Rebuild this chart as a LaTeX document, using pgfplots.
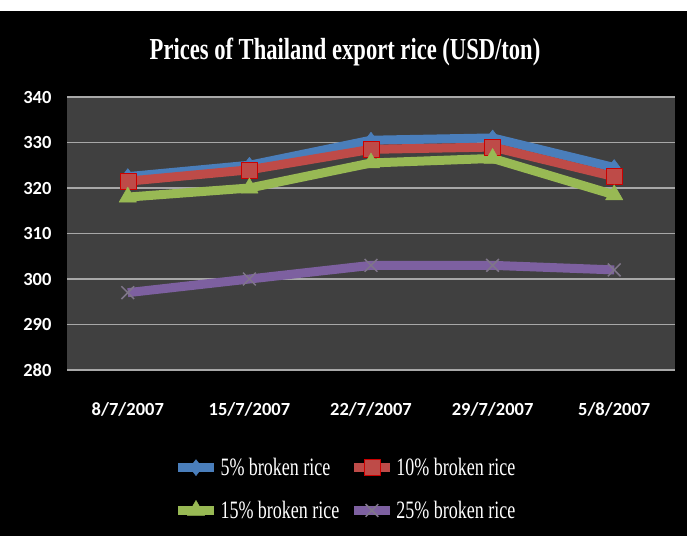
\documentclass[border=0pt]{standalone}
\usepackage{fontspec}
\setmainfont{Liberation Serif}
\newfontfamily\condfont[FakeStretch=0.72]{Liberation Serif}
\newfontfamily\condbold[FakeStretch=0.74]{Liberation Serif Bold}
\newfontfamily\tickfont{Carlito Bold}
\usepackage{pgfplots}
\pgfplotsset{compat=1.18}
\definecolor{plotbg}{HTML}{404040}
\definecolor{gridc}{HTML}{A8A8A8}
\definecolor{sblue}{HTML}{4A7EBB}
\definecolor{sred}{HTML}{BE4B48}
\definecolor{sgreen}{HTML}{98B954}
\definecolor{spurple}{HTML}{7D60A0}
\begin{document}
\begin{tikzpicture}[x=1pt,y=1pt]
\fill[black] (0,0) rectangle (687,536);
\fill[white] (0,525) rectangle (687,536);
\node[text=white,font=\condbold\fontsize{30.5}{33}\selectfont] at (345,484) {Prices of Thailand export rice (USD/ton)};
\begin{axis}[
  at={(67pt,166pt)}, anchor=south west,
  scale only axis, width=608pt, height=273pt,
  axis background/.style={fill=plotbg},
  axis line style={draw=none},
  xmin=-0.5, xmax=4.5, ymin=280, ymax=340,
  ytick={280,290,...,340},
  xtick={0,1,2,3,4},
  xticklabels={8/7/2007,15/7/2007,22/7/2007,29/7/2007,5/8/2007},
  major tick length=0pt,
  ymajorgrids, grid style={gridc, line width=1.6pt},
  /pgf/number format/assume math mode=true,
  tick label style={text=white, font=\tickfont\fontsize{18.5}{20}\selectfont},
  yticklabel style={xshift=-12pt},
  xticklabel style={yshift=-29pt},
  legend columns=2,
  legend style={at={(0.458,-0.315)}, anchor=north, fill=black, draw=none, text=white,
    font=\condfont\fontsize{25}{27}\selectfont,
    /tikz/every even column/.append style={column sep=8pt},
    row sep=20pt, inner sep=0pt},
  legend cell align=left,
  legend image code/.code={
    \draw[#1, line width=3pt] (0pt,0pt) -- (36pt,0pt);
    \draw[#1, mark repeat=2, mark phase=2] plot coordinates {(0pt,0pt) (18pt,0pt) (36pt,0pt)};
  },
  every axis plot/.append style={line width=9pt, line join=round},
]
\addplot[sblue, mark=diamond*, mark size=8pt, mark options={line width=0.5pt, fill=sblue}]
  coordinates {(0,322.5) (1,325) (2,330.5) (3,331) (4,324.5)};
\addlegendentry{5\% broken rice}
\addplot[sred, mark=square*, mark size=8pt, mark options={line width=0.5pt, fill=sred, draw=red!80!black}]
  coordinates {(0,321.5) (1,324) (2,328.5) (3,329) (4,322.5)};
\addlegendentry{10\% broken rice}
\addplot[sgreen, mark=triangle*, mark size=10pt, mark options={line width=0.5pt, fill=sgreen}]
  coordinates {(0,318) (1,320) (2,325.5) (3,326.5) (4,318.5)};
\addlegendentry{15\% broken rice}
\addplot[spurple, mark=x, mark size=9pt, mark options={line width=1.5pt, draw=gray!70!spurple}]
  coordinates {(0,297) (1,300) (2,303) (3,303) (4,302)};
\addlegendentry{25\% broken rice}
\end{axis}
\end{tikzpicture}
\end{document}
